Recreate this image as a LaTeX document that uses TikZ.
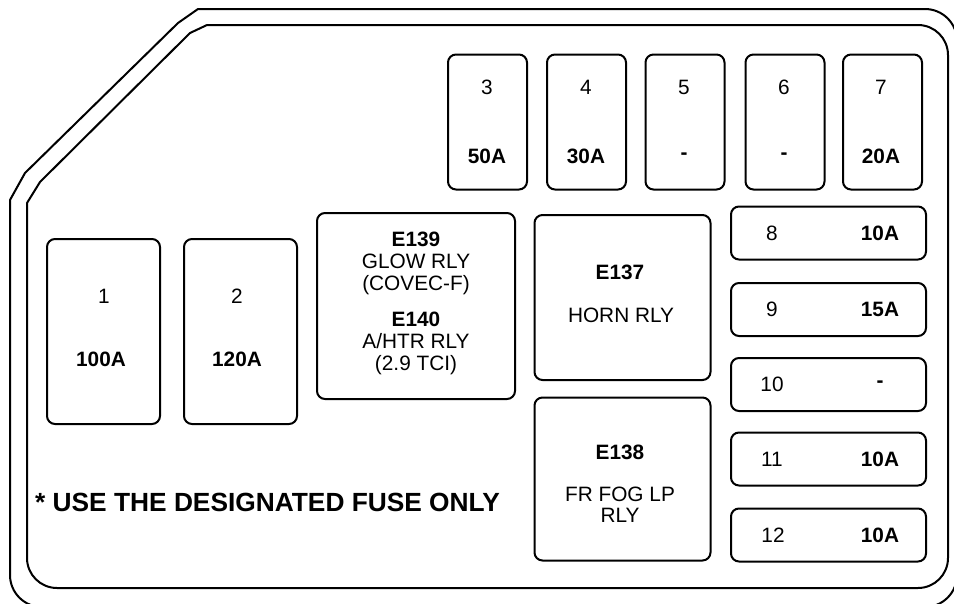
\documentclass[tikz,border=0pt]{standalone}
\usepackage{fontspec}
\setmainfont{Liberation Sans}
\usetikzlibrary{positioning}
\tikzstyle{outline} = [
    line width=2pt,
    line cap=round,
    line join=round
]
\tikzstyle{fusebox} = [
    rectangle,
    rounded corners=8pt,
    inner sep=0pt,
    line width=2pt,
    draw=black
]
\tikzstyle{topfuse} = [fusebox, minimum width=79pt, minimum height=135pt]
\tikzstyle{sidefuse} = [fusebox, minimum width=195pt, minimum height=53pt]
\tikzstyle{bigfuse} = [fusebox, minimum width=113pt, minimum height=185pt]
\tikzstyle{relay} = [fusebox, minimum width=176pt]
\tikzstyle{lbl} = [
    inner sep=0pt,
    align=center,
    font=\fontsize{20.8}{22}\selectfont
]
\tikzstyle{amp} = [lbl, font=\fontsize{20.8}{22}\selectfont\bfseries]

\begin{document}
\begin{tikzpicture}[x=1pt, y=-1pt]
\useasboundingbox (0,0) rectangle (954,603);
\clip (0,0) rectangle (954,603);

% housing
\draw[outline] (198,9) -- (178,23) -- (25,173) -- (10,200)
    [rounded corners=32pt] -- (10,607) -- (957,607) -- (957,9) -- (198,9);
\draw[outline] (207,25) -- (190,33) -- (40,182) -- (27,203)
    [rounded corners=30pt] -- (27,588) -- (948,588) -- (948,25) -- (207,25);

% main fuses
\node (f1) [bigfuse] at (103.5,331.5) {};
\node (f1num) [lbl] at (104,296) {1};
\node (f1amp) [amp] at (101,359) {100A};

\node (f2) [bigfuse] at (240.5,331.5) {};
\node (f2num) [lbl] at (237,296) {2};
\node (f2amp) [amp] at (237,359) {120A};

% top row
\node (f3) [topfuse] at (487.5,122) {};
\node (f3num) [lbl] at (487,87) {3};
\node (f3amp) [amp] at (487,156) {50A};

\node (f4) [topfuse] at (586.5,122) {};
\node (f4num) [lbl] at (586,87) {4};
\node (f4amp) [amp] at (586,156) {30A};

\node (f5) [topfuse] at (685,122) {};
\node (f5num) [lbl] at (684,87) {5};
\node (f5amp) [amp] at (684,156) {-};

\node (f6) [topfuse] at (785,122) {};
\node (f6num) [lbl] at (784,87) {6};
\node (f6amp) [amp] at (784,156) {-};

\node (f7) [topfuse] at (882.5,122) {};
\node (f7num) [lbl] at (881,87) {7};
\node (f7amp) [amp] at (881,156) {20A};

% right column
\node (f8) [sidefuse] at (828.5,233) {};
\node (f8num) [lbl] at (772,233) {8};
\node (f8amp) [amp] at (880,233) {10A};

\node (f9) [sidefuse] at (828.5,309.5) {};
\node (f9num) [lbl] at (772,309.5) {9};
\node (f9amp) [amp] at (880,309.5) {15A};

\node (f10) [sidefuse] at (828.5,384.5) {};
\node (f10num) [lbl] at (772,384.5) {10};
\node (f10amp) [amp] at (880,384.5) {-};

\node (f11) [sidefuse] at (828.5,459) {};
\node (f11num) [lbl] at (772,459) {11};
\node (f11amp) [amp] at (880,459) {10A};

\node (f12) [sidefuse] at (828.5,535) {};
\node (f12num) [lbl] at (773,535) {12};
\node (f12amp) [amp] at (880,535) {10A};

% relays
\node (r139) [relay, minimum width=198pt, minimum height=186pt] at (416,306) {};
\node (r139txt) [lbl] at (416,263) {\textbf{E139}\\GLOW RLY\\(COVEC-F)};
\node (r140txt) [lbl] at (416,343) {\textbf{E140}\\A/HTR RLY\\(2.9 TCI)};

\node (r137) [relay, minimum height=165pt] at (622.5,297.5) {};
\node (r137id) [amp] at (620,272) {E137};
\node (r137txt) [lbl] at (621,315) {HORN RLY};

\node (r138) [relay, minimum height=163pt] at (622.5,479) {};
\node (r138id) [amp] at (620,452) {E138};
\node (r138txt) [lbl, font=\fontsize{20.8}{21}\selectfont] at (620,505) {FR FOG LP\\RLY};

% note
\node (note) [inner sep=0pt, anchor=west, font=\fontsize{26.3}{28}\selectfont\bfseries]
    at (35,502) {* USE THE DESIGNATED FUSE ONLY};

\end{tikzpicture}
\end{document}
